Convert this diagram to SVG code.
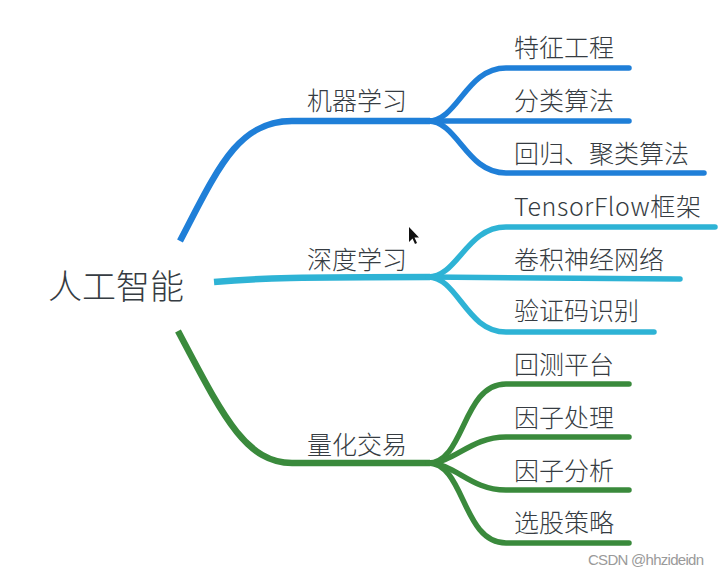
<svg xmlns="http://www.w3.org/2000/svg" width="721" height="574" viewBox="0 0 721 574">
<style>
  .t { font-family: "Noto Sans CJK SC", "Noto Sans", sans-serif; fill: #363c42; font-weight: 300; }
  .sub { font-size: 25px; }
  .main { stroke-width: 6.5; fill: none; stroke-linecap: butt; }
  .br { stroke-width: 5.5; fill: none; stroke-linecap: round; }
  .blue { stroke: #1f7fd8; }
  .teal { stroke: #2eb3d5; }
  .green { stroke: #3a8a3c; }
</style>
<rect width="721" height="574" fill="#ffffff"/>
<g id="connectors">
  <path class="main blue" d="M180,241 C218,168 238,121 292,121 L430,121"/>
  <path class="main teal" d="M214,282 C260,278 300,277 430,277"/>
  <path class="main green" d="M178,331 C222,414 245,463 292,463 L430,463"/>
  <path class="br blue" d="M428,121 C458,121 466,68 506,68 L629,68"/>
  <path class="br blue" d="M428,121 L629,121"/>
  <path class="br blue" d="M428,121 C458,121 466,173 506,173 L704,173"/>
  <path class="br teal" d="M428,277 C458,277 466,227 506,227 L715,227"/>
  <path class="br teal" d="M428,277 L680,279"/>
  <path class="br teal" d="M428,277 C458,277 466,332 506,332 L654,332"/>
  <path class="br green" d="M428,463 C465,463 462,384 506,384 L629,384"/>
  <path class="br green" d="M428,463 C455,463 470,437 506,437 L629,437"/>
  <path class="br green" d="M428,463 C455,463 470,490 506,490 L629,490"/>
  <path class="br green" d="M428,463 C465,463 462,543 506,543 L629,543"/>
</g>
<g id="root"><text class="t" x="48" y="299" font-size="34">人工智能</text></g>
<g id="n-ml"><text class="t sub" x="307" y="110">机器学习</text></g>
<g id="n-dl"><text class="t sub" x="307" y="269">深度学习</text></g>
<g id="n-qt"><text class="t sub" x="307" y="454">量化交易</text></g>
<g id="n-fe"><text class="t sub" x="514" y="57">特征工程</text></g>
<g id="n-cls"><text class="t sub" x="514" y="110">分类算法</text></g>
<g id="n-reg"><text class="t sub" x="514" y="163">回归、聚类算法</text></g>
<g id="n-tf"><text class="t sub" x="514" y="216" textLength="187">TensorFlow框架</text></g>
<g id="n-cnn"><text class="t sub" x="514" y="269">卷积神经网络</text></g>
<g id="n-cap"><text class="t sub" x="514" y="320">验证码识别</text></g>
<g id="n-bt"><text class="t sub" x="514" y="374">回测平台</text></g>
<g id="n-fp"><text class="t sub" x="514" y="427">因子处理</text></g>
<g id="n-fa"><text class="t sub" x="514" y="480">因子分析</text></g>
<g id="n-ss"><text class="t sub" x="514" y="532">选股策略</text></g>
<path d="M409,227 L409,242 L412.5,238.5 L415,244 L417,243 L414.5,237.5 L419,237.5 Z" fill="#111"/>
<text x="588" y="565" font-family="Liberation Sans Narrow, Liberation Sans, Arial, sans-serif" font-size="15" fill="#9a9a9a" textLength="116">CSDN @hhzideidn</text>
</svg>
